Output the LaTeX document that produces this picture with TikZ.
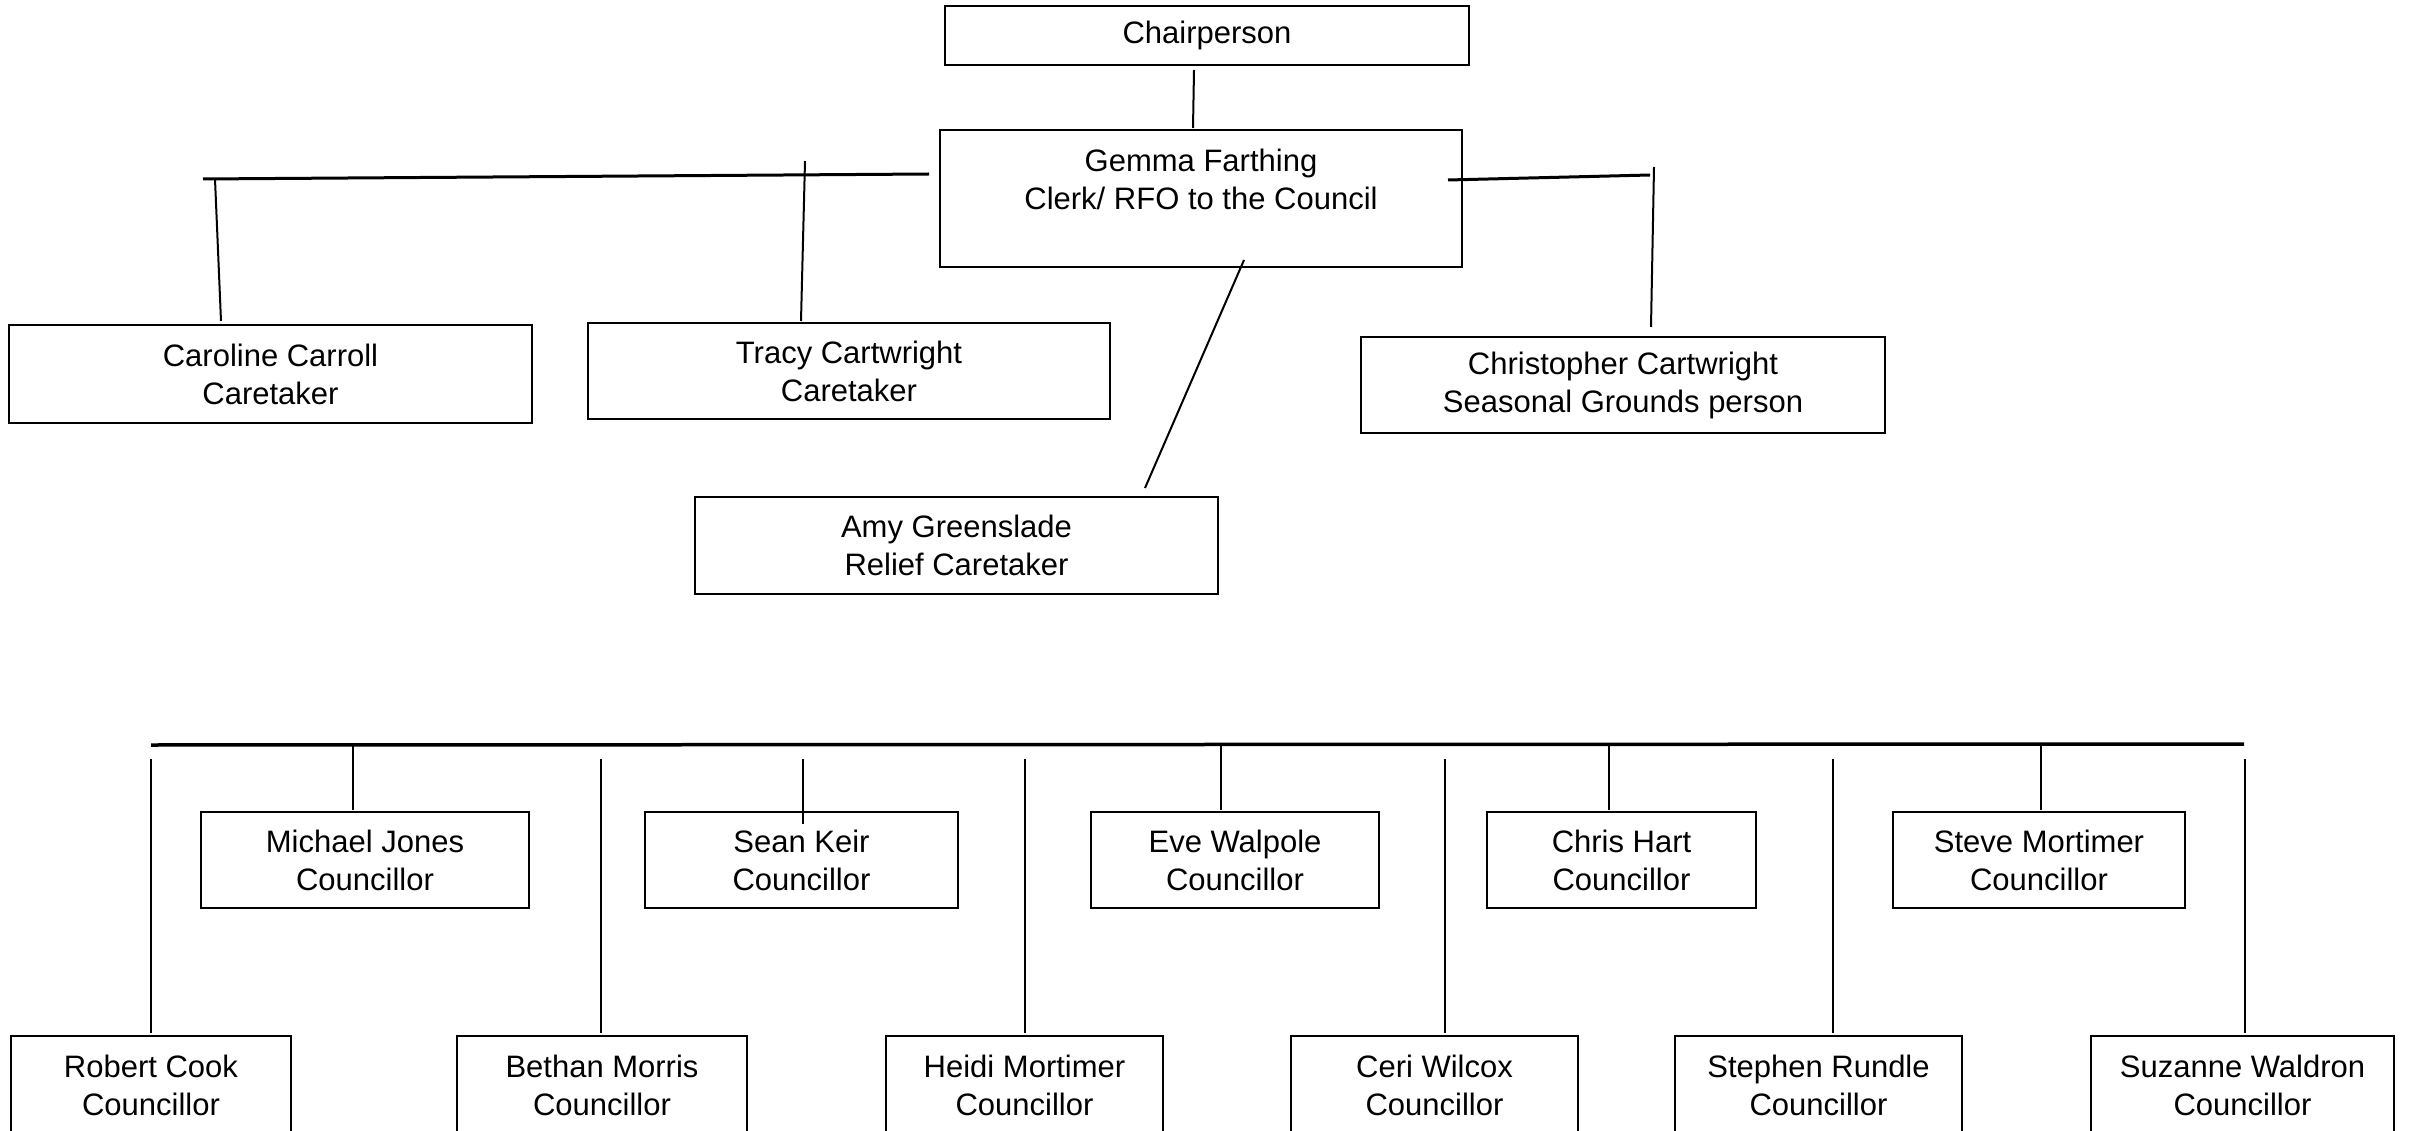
\documentclass[tikz,border=0pt]{standalone}
\usepackage{fontspec}
\setmainfont{Liberation Sans}
\usetikzlibrary{calc}
\begin{document}
\begin{tikzpicture}[x=1pt,y=-1pt,
  orgbox/.style={draw=black,line width=2pt,inner sep=0pt,align=center,
    font=\fontsize{31}{38}\selectfont,minimum height=96pt},
  conn/.style={draw=black,line width=2pt},
  bus/.style={draw=black,line width=3.5pt},
  lbl/.style={inner sep=0pt,align=center,font=\fontsize{31}{38}\selectfont}]
\useasboundingbox (0,0) rectangle (2410,1131);
\fill[white] (0,0) rectangle (2410,1131);
% top part
\node[orgbox,minimum width=524pt,minimum height=59pt] (chair) at (1207,35.5) {Chairperson};
\node[orgbox,minimum width=522pt,minimum height=137pt] (gemma) at (1201,198.5) {};
\node[lbl] (gemmatext) at (1201,179.5) {Gemma Farthing\\Clerk/ RFO to the Council};
\node[orgbox,minimum width=523pt,minimum height=98pt] (caroline) at (270.5,374) {Caroline Carroll\\Caretaker};
\node[orgbox,minimum width=522pt] (tracy) at (849,371) {Tracy Cartwright\\Caretaker};
\node[orgbox,minimum width=523pt,minimum height=97pt] (amy) at (956.5,545.5) {Amy Greenslade\\Relief Caretaker};
\node[orgbox,minimum width=524pt] (christopher) at (1623,385) {Christopher Cartwright\\Seasonal Grounds person};
% councillors upper row
\node[orgbox,minimum width=328pt] (michael) at (365,860) {Michael Jones\\Councillor};
\node[orgbox,minimum width=313pt] (sean) at (801.5,860) {Sean Keir\\Councillor};
\node[orgbox,minimum width=288pt] (eve) at (1235,860) {Eve Walpole\\Councillor};
\node[orgbox,minimum width=269pt] (chris) at (1621.5,860) {Chris Hart\\Councillor};
\node[orgbox,minimum width=292pt] (steve) at (2039,860) {Steve Mortimer\\Councillor};
% councillors lower row
\node[orgbox,minimum width=280pt,minimum height=98pt] (robert) at (151,1085) {Robert Cook\\Councillor};
\node[orgbox,minimum width=290pt,minimum height=98pt] (bethan) at (602,1085) {Bethan Morris\\Councillor};
\node[orgbox,minimum width=277pt,minimum height=98pt] (heidi) at (1024.5,1085) {Heidi Mortimer\\Councillor};
\node[orgbox,minimum width=287pt,minimum height=98pt] (ceri) at (1434.5,1085) {Ceri Wilcox\\Councillor};
\node[orgbox,minimum width=287pt,minimum height=98pt] (stephen) at (1818.5,1085) {Stephen Rundle\\Councillor};
\node[orgbox,minimum width=303pt,minimum height=98pt] (suzanne) at (2242.5,1085) {Suzanne Waldron\\Councillor};
% free ends
\coordinate (lbus) at (203,179);
\coordinate (cartop) at (215,179);
\coordinate (tratop) at (805,161);
\coordinate (rbus) at (1650,175);
\coordinate (chrtop) at (1654,167);
\coordinate (busL) at (151,745);
\coordinate (busR) at (2244,744);
% top connectors
\draw[conn] ($(chair.south)+(-13,4)$) -- ($(gemma.north)+(-8,-1)$);
\draw[bus,line width=3pt] ($(gemma.west)+(-10,-24.5)$) -- (lbus);
\draw[conn] (cartop) -- ($(caroline.north)+(-49.5,-3)$);
\draw[conn] (tratop) -- ($(tracy.north)+(-48,-1)$);
\draw[bus,line width=3pt] ($(gemma.east)+(-15,-18.5)$) -- (rbus);
\draw[conn] (chrtop) -- ($(christopher.north)+(28,-9)$);
\draw[conn] ($(gemma.south)+(43,-8)$) -- ($(amy.north)+(188.5,-8)$);
% councillor bus
\draw[bus] (busL) -- (busR);
\draw[conn] ($(michael.north)+(-12,-67)$) -- ($(michael.north)+(-12,-1)$);
\draw[conn] ($(sean.north)+(1.5,-52)$) -- ($(sean.north)+(1.5,13)$);
\draw[conn] ($(eve.north)+(-14,-67)$) -- ($(eve.north)+(-14,-1)$);
\draw[conn] ($(chris.north)+(-12.5,-67)$) -- ($(chris.north)+(-12.5,-1)$);
\draw[conn] ($(steve.north)+(2,-67)$) -- ($(steve.north)+(2,-1)$);
\draw[conn] ($(robert.north)+(0,-276)$) -- ($(robert.north)+(0,-2)$);
\draw[conn] ($(bethan.north)+(-1,-276)$) -- ($(bethan.north)+(-1,-2)$);
\draw[conn] ($(heidi.north)+(0.5,-276)$) -- ($(heidi.north)+(0.5,-2)$);
\draw[conn] ($(ceri.north)+(10.5,-276)$) -- ($(ceri.north)+(10.5,-2)$);
\draw[conn] ($(stephen.north)+(14.5,-276)$) -- ($(stephen.north)+(14.5,-2)$);
\draw[conn] ($(suzanne.north)+(2.5,-276)$) -- ($(suzanne.north)+(2.5,-2)$);
\end{tikzpicture}
\end{document}
